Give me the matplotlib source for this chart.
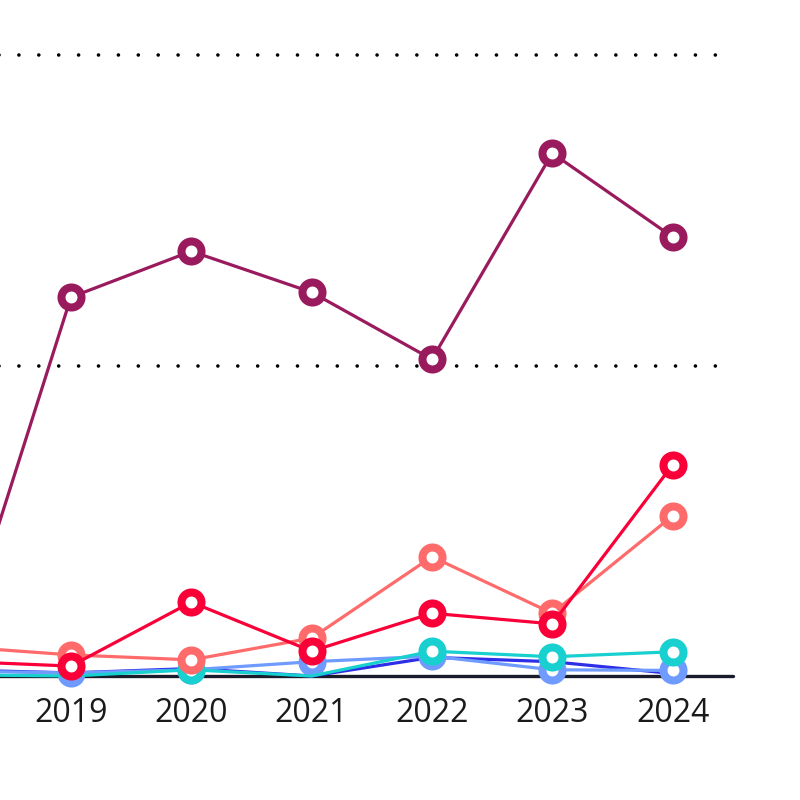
import matplotlib
matplotlib.use("Agg")
import matplotlib.pyplot as plt

years = [2018, 2019, 2020, 2021, 2022, 2023, 2024]
purple = [0, 61.0, 68.4, 61.8, 51.0, 84.2, 70.7]
red = [2.4, 1.6, 11.9, 4.0, 10.1, 8.4, 34.0]
salmon = [4.8, 3.4, 2.6, 6.1, 19.2, 10.1, 25.8]
cyan = [0.2, 0.0, 1.0, 0.0, 4.0, 3.1, 3.9]
lightblue = [0.8, 0.5, 1.0, 2.3, 3.2, 1.0, 0.9]
darkblue = [1.0, 0.5, 1.2, 0.0, 3.0, 2.3, 0.4]
tick_years = [2019, 2020, 2021, 2022, 2023, 2024]

plt.rcParams['font.family'] = ['Open Sans', 'DejaVu Sans']

fig = plt.figure(figsize=(8, 8), dpi=100)
# axes deliberately runs off the left edge (chart is cropped)
ax = fig.add_axes([-0.137, 0.155, 1.053, 0.815])

ax.set_xlim(2017.5, 2024.5)
ax.set_ylim(0, 105)

ms = 14.4
mew = 5.8
lw = 2.3

# dark blue has no visible markers
ax.plot(years, darkblue, color='#2d2ee6', lw=lw, zorder=3, clip_on=False)

series = [
    (lightblue, '#6f9bff', 4, None),
    (cyan, '#17d0cf', 5, [2, 4, 5, 6]),  # zero points show no marker
    (salmon, '#ff6b6b', 6, None),
    (red, '#fa0038', 7, None),
    (purple, '#9a1a5e', 8, None),
]
for vals, col, z, every in series:
    ax.plot(years, vals, color=col, lw=lw, marker='o', ms=ms,
            mfc='white', mec=col, mew=mew, zorder=z, clip_on=False,
            markevery=every)

ax.set_yticks([50, 100])
ax.yaxis.grid(True, color='black', linewidth=2.6,
              linestyle=(0, (0.01, 5.5)))
ax.set_axisbelow(True)
for gl in ax.yaxis.get_gridlines():
    gl.set_dash_capstyle('round')

ax.set_xticks(tick_years)
ax.set_xticklabels([str(y) for y in tick_years], fontsize=23, color='#1a1a1a')
ax.tick_params(axis='x', length=0, pad=15)
ax.tick_params(axis='y', length=0, labelleft=False)

for s in ['top', 'right', 'left']:
    ax.spines[s].set_visible(False)
ax.spines['bottom'].set_color('#1a1c2b')
ax.spines['bottom'].set_linewidth(2.4)
ax.spines['bottom'].set_capstyle('round')
ax.spines['bottom'].set_zorder(2)

fig.savefig('out.png', dpi=100)
